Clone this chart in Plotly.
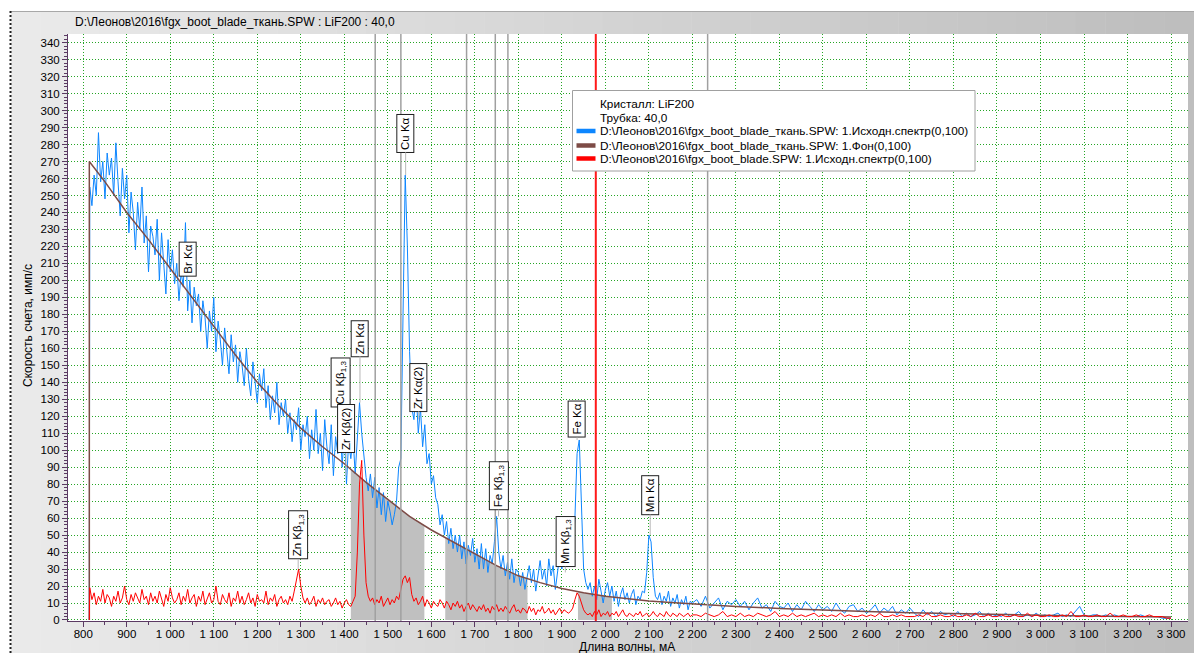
import numpy as np
import plotly.graph_objects as go

# ---------------- data ----------------
# wavelength grid, mA
wl = [814] + list(range(815, 2201, 5)) + list(range(2210, 3301, 10))

# fgx_boot_blade_ткань.SPW : 1.Исходн.спектр
blue = [0,
 255, 244, 262, 250, 287, 258, 270, 248, 275, 262,
 272, 250, 281, 258, 238, 266, 248, 262, 228, 252,
 240, 218, 246, 230, 255, 222, 238, 205, 232, 226,
 215, 236, 200, 228, 212, 192, 224, 205, 218, 198,
 210, 188, 205, 196, 234, 182, 200, 175, 196, 185,
 192, 170, 188, 178, 160, 182, 170, 190, 158, 176,
 165, 150, 172, 158, 145, 168, 152, 162, 140, 158,
 150, 138, 160, 142, 132, 152, 140, 128, 145, 135,
 148, 125, 138, 118, 132, 122, 140, 115, 128, 120,
 130, 110, 122, 105, 118, 112, 125, 100, 115, 108,
 120, 95, 112, 100, 124, 98, 110, 88, 118, 102,
 92, 115, 85, 108, 98, 122, 90, 112, 80, 105,
 95, 108, 86, 104, 128, 110, 96, 84, 76, 86,
 72, 84, 66, 78, 62, 75, 58, 70, 64, 56,
 62, 70, 90, 95, 180, 262, 220, 158, 125, 118,
 135, 110, 125, 102, 115, 92, 98, 80, 85, 72,
 68, 56, 62, 50, 58, 45, 54, 42, 50, 40,
 50, 36, 46, 33, 44, 38, 48, 34, 42, 30,
 45, 30, 42, 28, 38, 33, 46, 61, 40, 30,
 38, 26, 34, 24, 36, 22, 30, 28, 20, 28,
 18, 26, 32, 22, 30, 17, 25, 35, 24, 30,
 20, 36, 26, 32, 18, 28, 38, 30, 42, 35,
 44, 32, 40, 60, 98, 106, 70, 30, 22, 18,
 22, 14, 20, 12, 24, 16, 10, 18, 22, 14,
 20, 11, 17, 8, 15, 19, 12, 16, 10, 15,
 18, 9, 14, 12, 17, 16, 28, 50, 46, 25,
 14, 12, 16, 9, 14, 11, 17, 8, 13, 10,
 15, 7, 12, 9, 14, 6, 11, 10,
 12, 8, 14, 7, 10, 13, 6, 11, 9, 12,
 8, 11, 6, 10, 13, 7, 9, 5, 11, 8,
 7, 10, 5, 9, 6, 11, 8, 5, 9, 6,
 8, 5, 10, 6, 4, 8, 9, 5, 7, 4,
 6, 9, 4, 7, 5, 8, 3, 6, 4, 7,
 4, 2, 6, 3, 5, 2, 5, 3, 4, 2,
 5, 2, 4, 2, 3, 5, 2, 4, 2, 3,
 2, 4, 2, 3, 5, 2, 3, 2, 4, 2,
 3, 2, 3, 4, 2, 3, 2, 5, 8, 3,
 2, 3, 3, 2, 3, 2, 3, 2, 2, 2,
 2, 2, 3, 2, 2, 2, 2, 1, 1, 1]

# fgx_boot_blade.SPW : 1.Исходн.спектр
red = [0,
 19, 12, 16, 9, 14, 11, 18, 10, 15, 13,
 8, 14, 11, 17, 10, 13, 20, 12, 9, 15,
 11, 16, 13, 10, 18, 12, 14, 9, 16, 11,
 14, 10, 17, 12, 8, 15, 11, 19, 13, 10,
 12, 16, 9, 14, 11, 18, 10, 13, 15, 8,
 14, 11, 17, 9, 13, 16, 10, 12, 20, 11,
 9, 15, 12, 10, 16, 8, 13, 11, 17, 10,
 14, 9, 12, 16, 10, 13, 8, 15, 11, 12,
 10, 17, 9, 13, 11, 15, 8, 12, 14, 10,
 12, 9, 14, 11, 17, 24, 30, 20, 13, 10,
 13, 9, 11, 14, 8, 12, 10, 13, 9, 11,
 12, 8, 10, 13, 9, 11, 7, 10, 12, 9,
 8, 11, 14, 40, 80, 94, 50, 22, 14, 11,
 13, 9, 12, 10, 14, 8, 11, 13, 9, 12,
 10, 14, 12, 18, 24, 26, 22, 25, 15, 11,
 13, 9, 11, 14, 8, 12, 10, 7, 11, 9,
 8, 12, 10, 7, 11, 9, 6, 10, 8, 11,
 7, 9, 5, 8, 10, 6, 9, 7, 5, 8,
 6, 9, 5, 7, 4, 8, 6, 9, 5, 7,
 5, 8, 6, 4, 7, 9, 5, 6, 4, 7,
 6, 4, 8, 5, 7, 3, 6, 5, 8, 4,
 5, 7, 4, 6, 3, 5, 7, 4, 6, 5,
 4, 5, 7, 12, 16, 14, 10, 6, 4, 3,
 4, 2, 5, 3, 6, 2, 4, 3, 5, 2,
 4, 3, 5, 2, 4, 6, 3, 2, 4, 3,
 2, 4, 3, 5, 2, 3, 4, 2, 3, 5,
 3, 2, 4, 3, 2, 5, 3, 2, 4, 3,
 2, 4, 3, 2, 3, 4, 2, 3,
 3, 2, 4, 3, 2, 3, 5, 2, 3, 2,
 4, 2, 3, 2, 4, 3, 2, 3, 5, 2,
 3, 2, 4, 2, 3, 2, 3, 4, 2, 3,
 2, 3, 2, 4, 2, 3, 2, 2, 3, 2,
 3, 2, 4, 2, 2, 3, 2, 3, 2, 2,
 2, 3, 2, 4, 2, 2, 3, 2, 2, 3,
 2, 2, 3, 2, 4, 2, 2, 3, 2, 2,
 3, 2, 2, 3, 2, 2, 4, 2, 3, 2,
 2, 3, 2, 2, 3, 2, 5, 2, 2, 3,
 2, 2, 3, 2, 2, 4, 2, 2, 3, 2,
 2, 3, 2, 2, 3, 2, 2, 2, 1, 1]

# fgx_boot_blade_ткань.SPW : 1.Фон (background)
bg_wl = [814, 814, 850, 900, 950, 1000, 1050, 1100, 1150, 1200,
         1250, 1300, 1350, 1400, 1450, 1500, 1550, 1600, 1650, 1700,
         1750, 1800, 1850, 1900, 1950, 2000, 2050, 2100, 2150, 2200,
         2300, 2400, 2500, 2600, 2700, 2800, 2900, 3000, 3100, 3200, 3300]
bg_val = [0, 270, 258, 240, 224, 207, 190, 173, 156, 140,
          126, 113, 102, 92, 81, 71, 61, 53, 46, 39,
          32, 26, 22, 18.5, 16, 14, 12.5, 11.2, 10.3, 9.5,
          8, 6.8, 5.8, 5, 4.3, 3.7, 3.2, 2.8, 2.4, 2, 1.7]

# integration windows (shaded under the background)
windows = [(1415, 1584), (1632, 1821), (1937, 2015)]

# marker lines
gray_lines = [1471, 1530, 1681, 1747, 1776, 2235]
red_line = 1978

# peak labels
peak_names = ["Br Kα", "Zn Kβ<sub>1,3</sub>", "Cu Kβ<sub>1,3</sub>", "Zr Kβ(2)", "Zn Kα",
              "Cu Kα", "Zr Kα(2)", "Fe Kβ<sub>1,3</sub>", "Mn Kβ<sub>1,3</sub>", "Fe Kα", "Mn Kα"]
peak_wl = [1040, 1294, 1392.5, 1404, 1436, 1541, 1571, 1754.5, 1908, 1935, 2103]
peak_tip = [None, 30, None, 85, 128, 262, 118, 61, 28, 106, 50]
label_y = [212.6, 50, 139.9, 112.5, 165.9, 286.6, 137, 79.1, 46.1, 118.1, 73.6]

x_ticks = list(range(800, 3301, 100))
x_ticktext = [f"{v:,}".replace(",", " ") for v in x_ticks]

# ---------------- style ----------------
W, H = 1194, 653
ML, MR, MT, MB = 68, 6, 34, 32
PW, PH = W - ML - MR, H - MT - MB
AX = "#5b3a63"
GRID = "rgba(0,150,0,0.85)"
FONT = "Liberation Sans, Arial, sans-serif"
C_BLUE, C_BROWN, C_RED = "#0d86ff", "#7d4b46", "#ff0000"


def px(xp):
    return (xp - ML) / PW


def py(yp):
    return (H - MB - yp) / PH


fig = go.Figure()

bg_x = np.array(bg_wl[1:], dtype=float)
bg_y = np.array(bg_val[1:], dtype=float)
for a, b in windows:
    xs = np.linspace(a, b, 40)
    ys = np.interp(xs, bg_x, bg_y)
    fig.add_trace(go.Scatter(x=[a] + list(xs) + [b], y=[0] + list(ys) + [0],
                             fill="toself", fillcolor="#c0c0c0", mode="none",
                             hoverinfo="skip"))

fig.add_trace(go.Scatter(x=wl, y=blue, mode="lines", line=dict(color=C_BLUE, width=1)))
fig.add_trace(go.Scatter(x=bg_wl, y=bg_val, mode="lines", line=dict(color=C_BROWN, width=1.5)))
fig.add_trace(go.Scatter(x=wl, y=red, mode="lines", line=dict(color=C_RED, width=1)))

shapes = []
# outer gradient background
n = 40
x0p, x1p = 11, W
for i in range(n):
    a = x0p + (x1p - x0p) * i / n
    b = x0p + (x1p - x0p) * (i + 1) / n + 0.5
    g = int(round(234 - (234 - 190) * i / (n - 1)))
    shapes.append(dict(type="rect", xref="paper", yref="paper", x0=px(a), x1=px(b),
                       y0=py(H), y1=py(11), fillcolor=f"rgb({g},{g},{g})",
                       line=dict(width=0), layer="below"))
shapes.append(dict(type="rect", xref="paper", yref="paper", x0=0, x1=1, y0=0, y1=1,
                   fillcolor="white", line=dict(width=0), layer="below"))
shapes.append(dict(type="line", xref="paper", yref="paper", x0=px(11), x1=px(W),
                   y0=py(11.5), y1=py(11.5), line=dict(color="#a8a8a8", width=1), layer="below"))
shapes.append(dict(type="line", xref="paper", yref="paper", x0=px(10.5), x1=px(10.5),
                   y0=py(H), y1=py(11), line=dict(color="#222", width=2, dash="2px,2px"),
                   layer="below"))

for v in gray_lines:
    shapes.append(dict(type="line", xref="x", yref="paper", x0=v, x1=v, y0=0, y1=1,
                       line=dict(color="#a0a0a0", width=1.5), layer="above"))
shapes.append(dict(type="line", xref="x", yref="paper", x0=red_line, x1=red_line, y0=0, y1=1,
                   line=dict(color="#ff1a1a", width=2), layer="above"))

# manual legend
shapes.append(dict(type="rect", xref="paper", yref="paper", x0=px(572.5), x1=px(975),
                   y0=py(171), y1=py(90.5), fillcolor="white",
                   line=dict(color="#a0a0a0", width=1), layer="above"))
leg_y = [131, 145.5, 158.5]
leg_c = [C_BLUE, C_BROWN, C_RED]
leg_t = [r"D:\Леонов\2016\fgx_boot_blade_ткань.SPW: 1.Исходн.спектр(0,100)",
         r"D:\Леонов\2016\fgx_boot_blade_ткань.SPW: 1.Фон(0,100)",
         r"D:\Леонов\2016\fgx_boot_blade.SPW: 1.Исходн.спектр(0,100)"]
for yy, cc in zip(leg_y, leg_c):
    shapes.append(dict(type="line", xref="paper", yref="paper", x0=px(576.5), x1=px(595.5),
                       y0=py(yy), y1=py(yy), line=dict(color=cc, width=4.5), layer="above"))

annotations = []
annotations.append(dict(xref="paper", yref="paper", x=px(73), y=py(22.5), xanchor="left",
                        yanchor="middle", showarrow=False,
                        text=r"D:\Леонов\2016\fgx_boot_blade_ткань.SPW : LiF200 : 40,0",
                        font=dict(size=12, family=FONT, color="black")))
annotations.append(dict(xref="paper", yref="paper", x=px(627), y=py(646.5), xanchor="center",
                        yanchor="middle", showarrow=False, text="Длина волны, мА",
                        font=dict(size=12, family=FONT, color="black")))
annotations.append(dict(xref="paper", yref="paper", x=px(28), y=py(326), xanchor="center",
                        yanchor="middle", showarrow=False, text="Скорость счета, имп/с",
                        textangle=-90, font=dict(size=12, family=FONT, color="black")))
for t, yy in zip(["Кристалл: LiF200", "Трубка: 40,0"] + leg_t, [104, 118] + leg_y):
    annotations.append(dict(xref="paper", yref="paper", x=px(597.5), y=py(yy), xanchor="left",
                            yanchor="middle", showarrow=False, text=t,
                            font=dict(size=11.8, family=FONT, color="black")))

for name, xw, tip, ly in zip(peak_names, peak_wl, peak_tip, label_y):
    a = dict(xref="x", yref="y", text=name, textangle=-90,
             font=dict(size=11.5, family=FONT, color="black"),
             bgcolor="white", bordercolor="#202020", borderwidth=1, borderpad=2)
    if tip is None:
        a.update(x=xw, y=ly, showarrow=False)
    else:
        a.update(x=xw, y=tip, ax=xw, ay=ly, axref="x", ayref="y", showarrow=True,
                 arrowhead=0, arrowwidth=1, arrowcolor="#b8b8b8", standoff=0)
    annotations.append(a)

fig.update_layout(
    width=W, height=H,
    margin=dict(l=ML, r=MR, t=MT, b=MB, pad=0),
    paper_bgcolor="white", plot_bgcolor="white",
    font=dict(family=FONT, size=11.5, color="black"),
    showlegend=False,
    shapes=shapes, annotations=annotations,
    xaxis=dict(range=[765, 3339], tickmode="array", tickvals=x_ticks, ticktext=x_ticktext,
               showline=True, linecolor=AX, linewidth=1, ticks="outside", ticklen=5,
               tickcolor=AX, showgrid=True, gridcolor=GRID, griddash="1px,2px", gridwidth=1,
               zeroline=False, tickfont=dict(size=11.5, family=FONT, color="black"),
               automargin=False, ticklabelstandoff=-3,
               minor=dict(tickmode="linear", tick0=800, dtick=50, ticks="outside", ticklen=3,
                          tickcolor=AX, showgrid=False)),
    yaxis=dict(range=[-0.6, 345.1], tickmode="linear", tick0=0, dtick=10,
               showline=True, linecolor=AX, linewidth=1, ticks="outside", ticklen=5,
               tickcolor=AX, showgrid=True, gridcolor=GRID, griddash="1px,2px", gridwidth=1,
               zeroline=False, tickfont=dict(size=11.5, family=FONT, color="black"),
               automargin=False,
               minor=dict(tickmode="linear", tick0=0, dtick=2, ticks="outside", ticklen=3,
                          tickcolor=AX, showgrid=False)),
)

fig.write_html("out.html", config={"displayModeBar": False},
               post_script="document.body.style.margin='0';document.body.style.overflow='hidden';")
